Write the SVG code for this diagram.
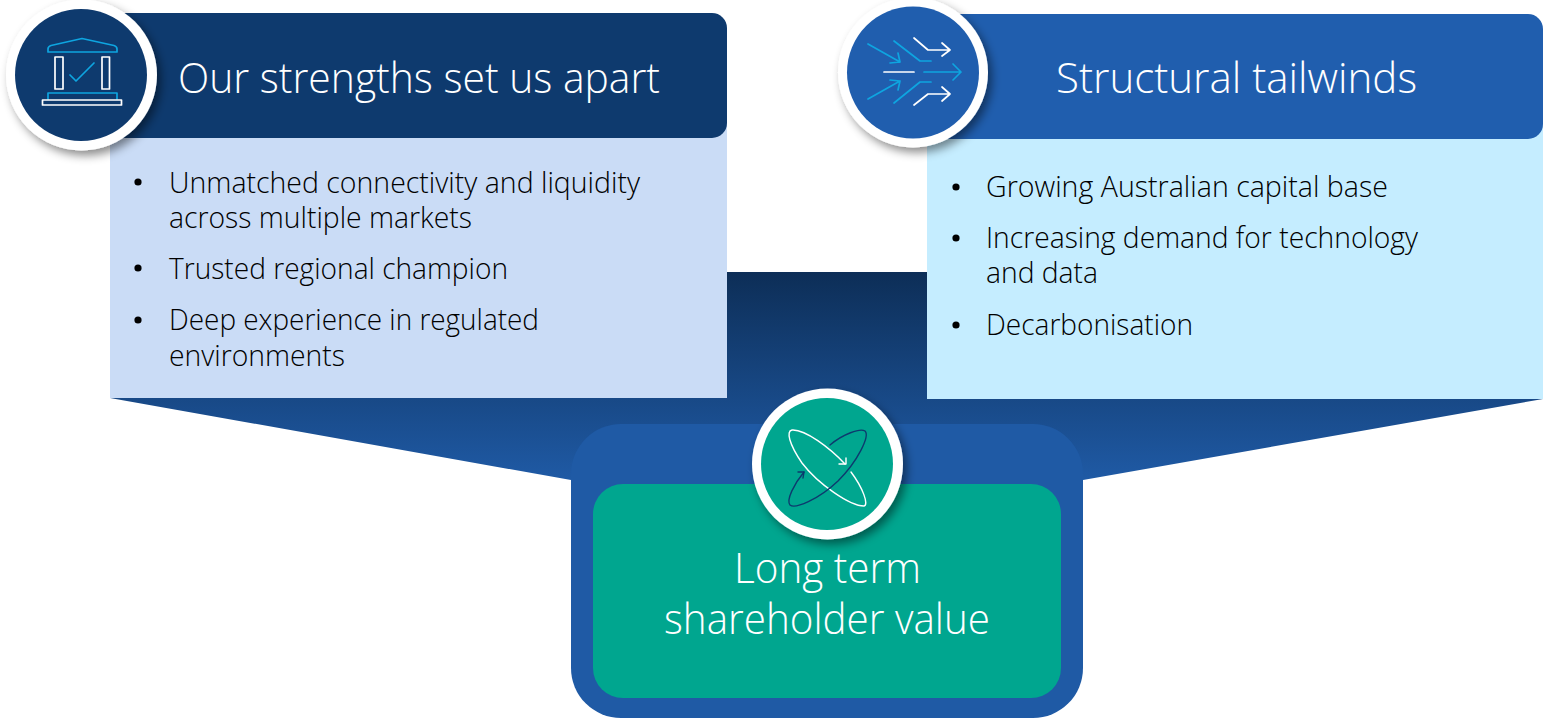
<svg xmlns="http://www.w3.org/2000/svg" width="1543" height="718" viewBox="0 0 1543 718">
<defs>
<linearGradient id="fun" gradientUnits="userSpaceOnUse" x1="0" y1="272" x2="0" y2="480"><stop offset="0" stop-color="#0d2e57"/><stop offset="1" stop-color="#1f5aa5"/></linearGradient>
<filter id="sh" x="-20%" y="-20%" width="150%" height="150%"><feDropShadow dx="4" dy="5" stdDeviation="5" flood-color="#000" flood-opacity=".45"/></filter>
</defs>
<style>
text{font-family:"Open Sans","Noto Sans","Liberation Sans",sans-serif;font-weight:300}
.h{font-size:43px;fill:#fff}
.b{font-size:29px;fill:#000}
.ring{fill:#fff;filter:url(#sh)}
.ic{fill:none;stroke-width:1.7;stroke-linecap:round;stroke-linejoin:round}
.w{stroke:#fff}.c{stroke:#0ea5e0}.n{stroke:#0d3a6e}
.i{stroke-width:1.4}
</style>
<g id="connectors"><polygon points="110,398 727,398 727,272 927,272 927,399 1543,399 1083,480 571,480" fill="url(#fun)"/></g>
<g id="strengths">
<rect x="110" y="120" width="617" height="278" fill="#cadcf6"/>
<path d="M110 13H712a15 15 0 0 1 15 15V123a15 15 0 0 1-15 15H110Z" fill="#0e3a6e"/>
<text class="h" x="178" y="93" textLength="482" lengthAdjust="spacingAndGlyphs">Our strengths set us apart</text>
<circle cx="138" cy="182" r="3.6"/><circle cx="138" cy="268" r="3.6"/><circle cx="138" cy="320" r="3.6"/>
<text class="b" x="169" y="193" textLength="471" lengthAdjust="spacingAndGlyphs">Unmatched connectivity and liquidity</text><text class="b" x="169" y="228" textLength="303" lengthAdjust="spacingAndGlyphs">across multiple markets</text><text class="b" x="169" y="279" textLength="339" lengthAdjust="spacingAndGlyphs">Trusted regional champion</text><text class="b" x="169" y="330" textLength="370" lengthAdjust="spacingAndGlyphs">Deep experience in regulated</text><text class="b" x="169" y="366" textLength="176" lengthAdjust="spacingAndGlyphs">environments</text>
<circle class="ring" cx="81.500" cy="75" r="75.500"/><circle cx="81" cy="75" r="66" fill="#0e3a6e"/>
<g class="ic">
<path class="c" d="M82 38.500L114 45.500Q117 46.500 117 49V52H48V49Q48 46.500 51 45.500Z"/>
<rect class="w" x="55" y="57" width="8" height="32"/><rect class="w" x="102" y="57" width="7.500" height="32"/>
<path class="c" d="M70 75L76 81L94 63"/>
<path class="c" d="M48 99V93H117V99"/>
<rect class="w" x="42.500" y="100" width="79" height="5"/>
</g></g>
<g id="tailwinds">
<rect x="927" y="120" width="616" height="279" fill="#c5edff"/>
<path d="M940 14H1528a15 15 0 0 1 15 15V124a15 15 0 0 1-15 15H940Z" fill="#205eae"/>
<text class="h" x="1056" y="93" textLength="361" lengthAdjust="spacingAndGlyphs">Structural tailwinds</text>
<circle cx="956" cy="187" r="3.600"/><circle cx="956" cy="238" r="3.600"/><circle cx="956" cy="325" r="3.600"/>
<text class="b" x="986" y="197" textLength="402" lengthAdjust="spacingAndGlyphs">Growing Australian capital base</text><text class="b" x="986" y="248" textLength="432" lengthAdjust="spacingAndGlyphs">Increasing demand for technology</text><text class="b" x="986" y="283" textLength="112" lengthAdjust="spacingAndGlyphs">and data</text><text class="b" x="986" y="335" textLength="207" lengthAdjust="spacingAndGlyphs">Decarbonisation</text>
<circle class="ring" cx="913" cy="72.500" r="75"/><circle cx="913" cy="72.500" r="66" fill="#205eae"/>
<g class="ic">
<path class="c" d="M868 44L900 62M898 53L900 62L890 63"/>
<path class="c" d="M868 99L900 81M890 80L900 81L898 90"/>
<path class="c" d="M894 41L920 61H931M894 103L920 82H931"/>
<path class="c" d="M924 72H961M953 64L961 72L953 80"/>
<path class="w" d="M914 38L928 50H949M942 43L950 50L942 56"/>
<path class="w" d="M884 72H914"/>
<path class="w" d="M914 105L928 94H949M942 87L950 94L942 101"/>
</g></g>
<g id="value">
<rect x="571" y="424" width="512" height="294" rx="50" fill="#1f5aa5"/>
<rect x="593" y="484" width="468" height="214" rx="30" fill="#00a68f"/>
<text class="h" x="734" y="583" textLength="187" lengthAdjust="spacingAndGlyphs">Long term</text><text class="h" x="664" y="634" textLength="326" lengthAdjust="spacingAndGlyphs">shareholder value</text>
<circle class="ring" cx="827.500" cy="464" r="75.500"/><circle cx="827" cy="464" r="66" fill="#00a68f"/>
<g class="ic i">
<path class="w" d="M845 464C830 448 805 429 792 430C786 431 789 444 802 463C818 484 850 506 864 506C869 505 863 488 851 472"/>
<path class="w" d="M839 464L846 464L846 458"/>
<path class="n" d="M830 445C843 434 860 428 865 431C870 436 858 461 838 481C818 500 795 509 790 505C786 500 794 484 804 472"/>
<path class="n" d="M798 472L804 472L803 478"/>
</g></g>
</svg>
